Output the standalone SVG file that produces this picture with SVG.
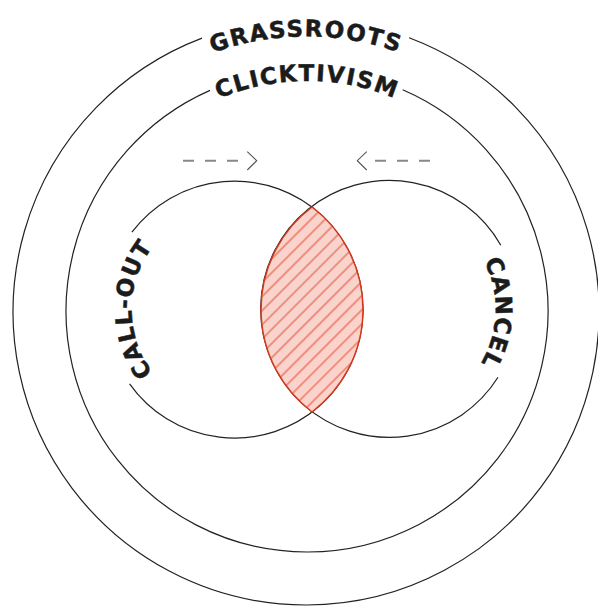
<svg xmlns="http://www.w3.org/2000/svg" width="598" height="608" viewBox="0 0 598 608">
<style>
.ring{fill:none;stroke:#222;stroke-width:1.2}
.lbl{font-family:"DejaVu Sans","Liberation Sans",Arial,sans-serif;font-weight:bold;font-size:23px;fill:#1b1b1b;stroke:#1b1b1b;stroke-width:0.5}
.dash{fill:none;stroke:#888;stroke-width:2;stroke-dasharray:11 11}
.chev{fill:none;stroke:#555;stroke-width:1.1}
</style>
<defs>
<pattern id="hatch" patternUnits="userSpaceOnUse" width="10" height="10" patternTransform="rotate(-45)">
<rect width="10" height="10" fill="#fad4cc"/>
<line x1="0" y1="5" x2="10" y2="5" stroke="#e24a2e" stroke-width="1"/>
</pattern>
<path id="pGrass" d="M30.5,312 A275.5,275.5 0 0 1 581.5,312"/>
<path id="pClick" d="M77,311 A230,230 0 0 1 537,311"/>
<path id="pCall" d="M234.5,412.5 A103,103 0 0 1 234.5,206.5"/>
<path id="pCancel" d="M389.5,203.5 A106,106 0 0 1 389.5,415.5"/>
</defs>
<g id="grassroots">
<path class="ring" d="M409.1,37.7 A293,293 0 1 1 202,38.1"/>
<text class="lbl" letter-spacing="1.5"><textPath href="#pGrass" startOffset="50%" text-anchor="middle">GRASSROOTS</textPath></text>
</g>
<g id="clicktivism">
<path class="ring" d="M402.7,89.8 A241,241 0 1 1 210,90.4"/>
<text class="lbl" letter-spacing="1.5"><textPath href="#pClick" startOffset="50%" text-anchor="middle">CLICKTIVISM</textPath></text>
</g>
<g id="callout">
<path class="ring" d="M131.9,232.2 A128.5,128.5 0 1 1 129.6,383.8"/>
<text class="lbl" letter-spacing="1"><textPath href="#pCall" startOffset="50%" text-anchor="middle">CALL-OUT</textPath></text>
</g>
<g id="cancel">
<path class="ring" d="M498,377.3 A128.5,128.5 0 1 1 500.8,245.2"/>
<text class="lbl" letter-spacing="1"><textPath href="#pCancel" startOffset="51%" text-anchor="middle">CANCEL</textPath></text>
</g>
<g id="overlap">
<path d="M312,207 A128.5,128.5 0 0 1 312,412 A128.5,128.5 0 0 1 312,207 Z" fill="url(#hatch)" stroke="#d2381c" stroke-width="1.5"/>
</g>
<g id="connectors">
<line class="dash" x1="183" y1="160.7" x2="245" y2="160.7"/>
<polyline class="chev" points="247.3,151.7 256.7,160.7 247.3,170"/>
<line class="dash" x1="430" y1="160.7" x2="368" y2="160.7"/>
<polyline class="chev" points="366.7,151.7 357.3,160.7 366.7,170"/>
</g>
</svg>
